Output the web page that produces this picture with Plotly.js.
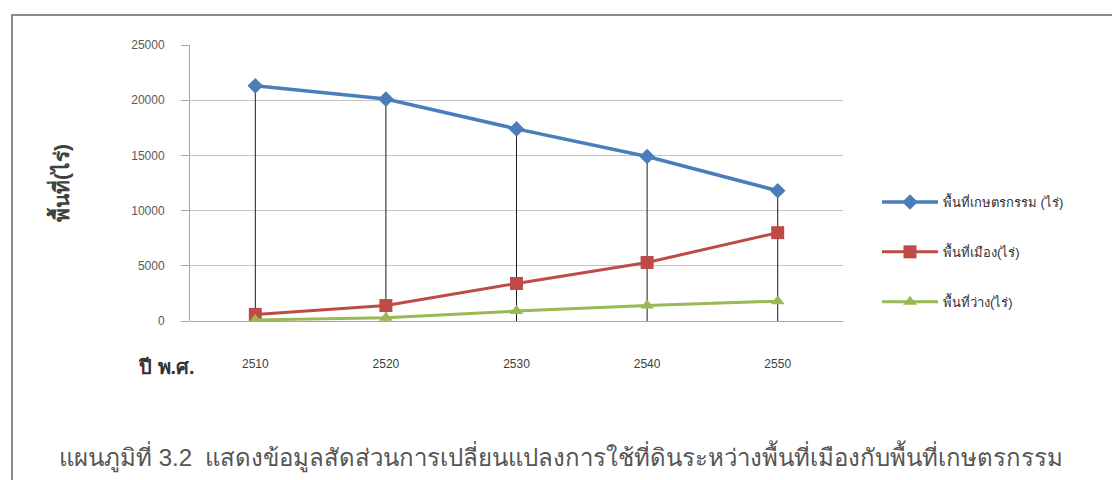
<!DOCTYPE html>
<html>
<head>
<meta charset="utf-8">
<script src="https://cdn.plot.ly/plotly-3.0.1.min.js"></script>
<style>html,body{margin:0;padding:0;background:#fff;}#chart{width:1112px;height:480px;}</style>
</head>
<body>
<div id="chart"></div>
<script>
const years = ["2510", "2520", "2530", "2540", "2550"];
const agriArea = [21300, 20100, 17400, 14900, 11800];
const urbanArea = [600, 1400, 3400, 5300, 8000];
const vacantArea = [100, 300, 900, 1400, 1800];
const seriesNames = ["พื้นที่เกษตรกรรม (ไร่)", "พื้นที่เมือง(ไร่)", "พื้นที่ว่าง(ไร่)"];
const yTicks = [0, 5000, 10000, 15000, 20000, 25000];
const yTitle = "พื้นที่(ไร่)";
const xLabel = "ปี พ.ศ.";
const caption = "แผนภูมิที่ 3.2  แสดงข้อมูลสัดส่วนการเปลี่ยนแปลงการใช้ที่ดินระหว่างพื้นที่เมืองกับพื้นที่เกษตรกรรม";

const FONT = "Liberation Sans, Arial, Noto Sans, sans-serif";

// drop lines from the top series to the axis
const dropX = [], dropY = [];
years.forEach((y, i) => {
  const top = Math.max(agriArea[i], urbanArea[i], vacantArea[i]);
  dropX.push(y, y, null);
  dropY.push(0, top, null);
});

const traces = [
  {x: dropX, y: dropY, mode: "lines", line: {color: "#1a1a1a", width: 1},
   showlegend: false, hoverinfo: "skip"},
  {x: years, y: agriArea, name: seriesNames[0], mode: "lines+markers", legendgroup: "a",
   line: {color: "#4A7EBB", width: 3.5}, marker: {symbol: "diamond", size: 12, color: "#4A7EBB"}},
  {x: years, y: urbanArea, name: seriesNames[1], mode: "lines+markers", legendgroup: "b",
   line: {color: "#BE4B48", width: 3}, marker: {symbol: "square", size: 13, color: "#BE4B48"}},
  {x: years, y: vacantArea, name: seriesNames[2], mode: "lines+markers", legendgroup: "c",
   line: {color: "#98B954", width: 3}, marker: {symbol: "triangle-up", size: 12, color: "#98B954"}}
];

const L = 190, R = 843, T = 45, B = 321;
const W = R - L, H = B - T;
const px = p => (p - L) / W;
const py = q => (B - q) / H;

const layout = {
  width: 1112, height: 480,
  margin: {l: L, r: 1112 - R, t: T, b: 480 - B},
  paper_bgcolor: "#ffffff", plot_bgcolor: "#ffffff",
  font: {family: FONT, color: "#404040"},
  showlegend: true,
  legend: {
    x: px(877), y: py(187), xanchor: "left", yanchor: "top",
    traceorder: "grouped", tracegroupgap: 30, itemwidth: 56,
    font: {family: FONT, size: 13, color: "#333333"},
    bgcolor: "rgba(0,0,0,0)"
  },
  xaxis: {
    type: "category", range: [-0.5, 4.5],
    showgrid: false, zeroline: false,
    showline: false, ticks: "",
    tickfont: {family: FONT, size: 12, color: "#404040"},
    ticklabelstandoff: 34
  },
  yaxis: {
    range: [0, 25000], tickvals: yTicks, tickformat: "d",
    showgrid: true, gridcolor: "#c4c4c4", gridwidth: 1,
    zeroline: true, zerolinecolor: "#a6a6a6", zerolinewidth: 1,
    showline: true, linecolor: "#a6a6a6", linewidth: 1,
    ticks: "outside", ticklen: 8, tickcolor: "#a6a6a6",
    tickfont: {family: FONT, size: 12, color: "#595959"},
    ticklabelstandoff: 14,
    title: {text: yTitle, standoff: 55, font: {family: FONT, size: 21, color: "#404040", weight: "bold"}}
  },
  shapes: [
    {type: "rect", xref: "paper", yref: "paper",
     x0: px(12), x1: px(1125), y0: py(15), y1: py(495),
     line: {color: "#8c8c8c", width: 2}, fillcolor: "rgba(0,0,0,0)"}
  ],
  annotations: [
    {text: "<b>" + xLabel + "</b>", xref: "paper", yref: "paper",
     x: px(166), y: py(367), xanchor: "center", yanchor: "middle", showarrow: false,
     font: {family: FONT, size: 20, color: "#333333"}},
    {text: caption, xref: "paper", yref: "paper",
     x: px(57), y: py(456), xanchor: "left", yanchor: "middle", showarrow: false,
     font: {family: FONT, size: 24, color: "#555555"}}
  ]
};

Plotly.newPlot("chart", traces, layout, {displayModeBar: false, staticPlot: true});
</script>
</body>
</html>
